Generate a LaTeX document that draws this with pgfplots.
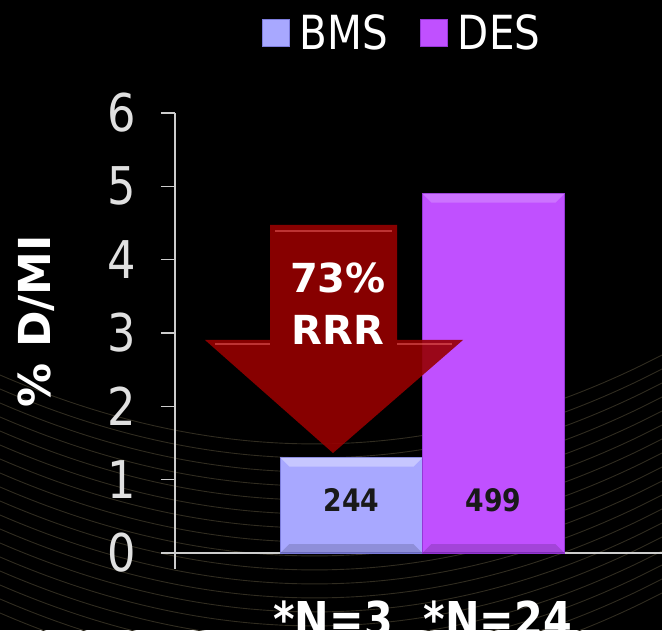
\documentclass[border=0pt]{standalone}
\usepackage{fontspec}
\setmainfont{DejaVu Sans}[FakeStretch=0.86]
\newfontfamily\widefont{DejaVu Sans}
\usepackage{pgfplots}
\pgfplotsset{compat=1.18}
\definecolor{axcol}{RGB}{205,205,205}
\definecolor{bmscol}{RGB}{168,168,255}
\definecolor{bmsedge}{RGB}{125,125,220}
\definecolor{descol}{RGB}{192,80,255}
\definecolor{desedge}{RGB}{150,55,215}
\definecolor{arrowred}{RGB}{150,0,0}
\definecolor{arcol}{RGB}{48,44,32}
\begin{document}
\begin{tikzpicture}[x=1pt,y=1pt]
\path[use as bounding box, fill=black] (0,0) rectangle (662,630);
\foreach \i in {0,...,17} {
  \draw[arcol, line width=0.9pt] (0,255-\i*14) .. controls (220,160-\i*14) and (440,160-\i*14) .. (662,275-\i*14);
}
\begin{axis}[
  scale only axis, width=487pt, height=440pt,
  at={(175pt,77pt)}, anchor=south west,
  xmin=-1.243, xmax=2.187, ymin=0, ymax=6,
  axis x line*=bottom, axis y line*=left,
  axis line style={axcol, line width=1.6pt},
  ytick={0,1,2,3,4,5,6},
  ytick align=outside, major tick length=14pt,
  every tick/.append style={axcol, line width=1.6pt},
  xtick={-0.13,1.03}, xticklabels={*N=3,*N=24},
  xtick style={draw=none},
  /pgf/number format/assume math mode=true,
  yticklabel style={text=white!88!black, font=\fontsize{52}{52}\selectfont, xshift=-22pt},
  xticklabel style={text=white, font=\bfseries\fontsize{48}{48}\selectfont, anchor=base, yshift=-69pt},
  ylabel={\% D/MI},
  ylabel style={at={(axis description cs:-0.285,0.527)}, anchor=center, text=white, font=\widefont\bfseries\fontsize{44}{44}\selectfont},
  ybar, bar width=1, bar shift=0pt,
  legend style={at={(0.466,1.182)}, anchor=center, draw=none, fill=none, text=white,
    font=\fontsize{47}{47}\selectfont, legend columns=2,
    /tikz/every odd column/.append style={column sep=8pt},
    /tikz/every even column/.append style={column sep=30pt}},
  legend image code/.code={\draw[#1, line width=1pt] (0pt,-13.5pt) rectangle (27pt,13.5pt);},
  clip=false,
]
\addplot[fill=bmscol, draw=bmsedge, line width=1.5pt] coordinates {(0,1.3)};
\addplot[fill=descol, draw=desedge, line width=1.5pt] coordinates {(1,4.9)};
\legend{BMS,DES}
% bevel highlights
\fill[white, opacity=0.35] (axis cs:-0.5,1.3) -- (axis cs:0.5,1.3) -- ([xshift=-9pt,yshift=-9pt]axis cs:0.5,1.3) -- ([xshift=9pt,yshift=-9pt]axis cs:-0.5,1.3) -- cycle;
\fill[black, opacity=0.15] (axis cs:-0.5,0) -- (axis cs:0.5,0) -- ([xshift=-9pt,yshift=9pt]axis cs:0.5,0) -- ([xshift=9pt,yshift=9pt]axis cs:-0.5,0) -- cycle;
\fill[white, opacity=0.2] (axis cs:0.5,4.9) -- (axis cs:1.5,4.9) -- ([xshift=-9pt,yshift=-9pt]axis cs:1.5,4.9) -- ([xshift=9pt,yshift=-9pt]axis cs:0.5,4.9) -- cycle;
\fill[black, opacity=0.15] (axis cs:0.5,0) -- (axis cs:1.5,0) -- ([xshift=-9pt,yshift=9pt]axis cs:1.5,0) -- ([xshift=9pt,yshift=9pt]axis cs:0.5,0) -- cycle;
\node[text=black!90, font=\bfseries\fontsize{31}{31}\selectfont] at (axis cs:0,0.72) {244};
\node[text=black!90, font=\bfseries\fontsize{31}{31}\selectfont] at (axis cs:1,0.72) {499};
\draw[axcol, line width=1.6pt] (axis cs:-1.243,0) -- ([yshift=-16pt]axis cs:-1.243,0);
\end{axis}
\fill[arrowred, fill opacity=0.9] (270,405) -- (397,405) -- (397,290) -- (463,290) -- (333,177) -- (205,290) -- (270,290) -- cycle;
\draw[red!55!white, opacity=0.45, line width=1.5pt] (275,399) -- (392,399);
\draw[red!55!white, opacity=0.45, line width=1.5pt] (215,286) -- (270,286) (397,286) -- (452,286);
\node[text=white, font=\widefont\bfseries\fontsize{40}{40}\selectfont, anchor=base] at (338,337) {73\%};
\node[text=white, font=\widefont\bfseries\fontsize{40}{40}\selectfont, anchor=base] at (338,285) {RRR};
\end{tikzpicture}
\end{document}
